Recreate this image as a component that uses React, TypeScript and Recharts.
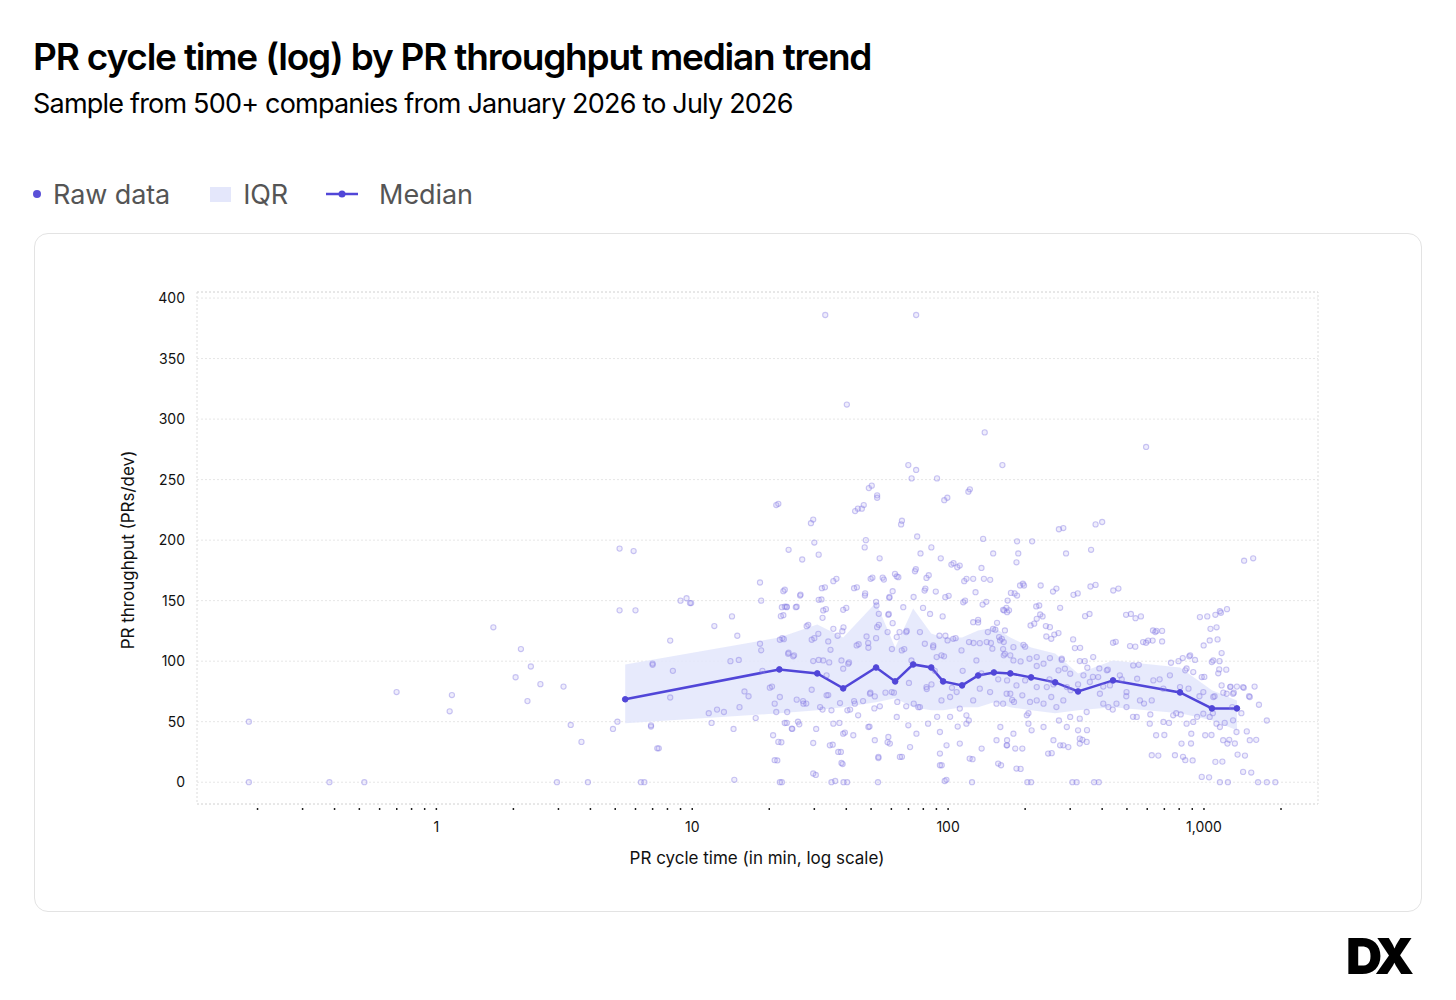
import React from 'react'
import {
  ComposedChart,
  Scatter,
  Area,
  Line,
  XAxis,
  YAxis,
  CartesianGrid,
  ReferenceArea,
} from 'recharts'

// raw points: [cycle time (min), throughput (PRs/dev)]
const rawPoints: [number, number][] = [
  [0.185, 50], [0.185, 0], [0.382, 0], [0.523, 0], [0.699, 74.5], [1.127, 58.6], [1.15, 72],
  [1.67, 128], [2.04, 86.7], [2.14, 110], [2.27, 67], [2.34, 95.6], [2.55, 81], [2.96, 0],
  [3.14, 79], [3.35, 47.3], [3.69, 33.3], [3.91, 0],
  [4.9, 44], [5.2, 193], [5.2, 142], [6.9, 46], [7.0, 98], [7.4, 28], [8.4, 92], [8.2, 70],
  [9.5, 152], [9.9, 148], [6.3, 0],
  [12.2, 129], [11.6, 57], [11.9, 49], [12.5, 60], [13.3, 58], [14.3, 137], [14.1, 100],
  [14.5, 44], [14.6, 2], [15, 121], [15.2, 101], [15.3, 62], [16, 75], [16.6, 71], [17.7, 53],
  [18.4, 165], [18.6, 109], [18.6, 150], [18.8, 92], [20.5, 79], [21.3, 58], [21.5, 18],
  [21.7, 230], [22.3, 33], [22.4, 0], [22.5, 119], [22.7, 138], [23, 159], [23, 145], [23.4, 145],
  [23.8, 192], [23.8, 107], [24.8, 104], [25.6, 145], [23.4, 49], [24.6, 44], [25.9, 50],
  [26.5, 155], [26.9, 184], [27.1, 67], [27.9, 65], [28.4, 130], [29.7, 217], [30, 198],
  [30, 119], [30.4, 6], [30.5, 44], [31.2, 188], [31.2, 101], [32, 151], [32.3, 60], [33, 161],
  [33.3, 143], [34, 72], [34.3, 99], [35.4, 31], [36.2, 1], [36.6, 168], [37, 121], [37.6, 49],
  [38.1, 25], [38.7, 15], [39, 128], [39.5, 41], [40, 144], [40.3, 0], [41, 99], [41.4, 60],
  [42.9, 67], [44, 161], [44.4, 226], [44.7, 114], [46.5, 67], [46.8, 229], [47.2, 194],
  [47.4, 156], [47.7, 200], [48.7, 115], [49.3, 46], [49.7, 74], [50.3, 245], [50.6, 169],
  [51.5, 61], [52.3, 119], [52.3, 149], [52.8, 237], [53.2, 0], [53.4, 20], [53.6, 130],
  [54, 185], [55.5, 169],
  [56.9, 74], [58, 33], [58.6, 139], [59, 153], [60.3, 110], [61.4, 74], [63, 170], [64.6, 124],
  [66, 216], [66, 21], [67.4, 110], [68.9, 125], [70.3, 82], [71, 29], [73.3, 153], [74.8, 176],
  [75.7, 203], [76.5, 62], [78, 189], [79.8, 144], [81.5, 160], [82.5, 77], [84, 171], [85, 139],
  [86, 194], [87.5, 113], [88.7, 92], [90.6, 54], [92.5, 121], [93.6, 185], [94.4, 14],
  [95.2, 137], [96.4, 104], [97.6, 121], [98.5, 2], [99.3, 235], [100.5, 154], [101.8, 54],
  [103.5, 78], [105, 181], [107, 119], [109, 46], [111, 179], [114, 92], [116.5, 150], [118, 168],
  [120.5, 51], [121.6, 242], [124, 0], [124.6, 19], [125.7, 115],
  [128, 157], [131, 132], [135, 90], [137, 201], [138, 168], [141, 149], [143, 124], [147, 115],
  [150, 189], [153, 126], [157, 85], [161, 14], [164, 110], [169, 144], [173, 142], [178, 68],
  [182, 156], [186, 199], [188, 189], [192, 11], [196, 164], [200, 112], [206, 57], [211, 0],
  [213, 199], [217, 131], [222, 96], [227, 146], [234, 137], [241, 129], [249, 85], [254, 24],
  [260, 122], [265, 160], [271, 51], [278, 101], [282, 210], [289, 189], [295, 29], [301, 76],
  [308, 118], [318, 0], [321, 156], [328, 111], [335, 35], [342, 100], [349, 43], [357, 139],
  [362, 192], [368, 87], [377, 163], [388, 0], [390, 94],
  [400, 215], [404, 79], [421, 93], [440, 60], [452, 116], [463, 160], [477, 85], [497, 71],
  [518, 139], [528, 54], [539, 112], [556, 97], [567, 137], [583, 65], [605, 117], [617, 56],
  [630, 117], [652, 125], [663, 22], [671, 85], [686, 125], [700, 39], [730, 49], [779, 57],
  [795, 100], [811, 56], [828, 21], [855, 94], [876, 104], [890, 32], [903, 18], [922, 101],
  [940, 54], [960, 71], [1003, 87], [1030, 137], [1047, 4], [1070, 39], [1083, 57], [1100, 71],
  [1120, 128], [1130, 118], [1137, 90], [1150, 100], [1165, 140], [1180, 17], [1190, 74],
  [1205, 49], [1222, 93], [1230, 143], [1240, 0], [1255, 35], [1270, 79], [1290, 62], [1308, 74],
  [1320, 32], [1345, 79], [1400, 57], [1430, 78], [1446, 22], [1470, 42], [1500, 71], [1530, 8],
  [1557, 185], [1577, 79], [1600, 35], [1640, 64], [1760, 51], [1760, 0], [1900, 0],
  // upper outliers
  [33.1, 386], [75, 386], [40.2, 312], [139, 289], [594, 277], [69.9, 262], [75, 258],
  [72, 251], [90.5, 251], [163, 262], [49, 243], [52.8, 235], [43.3, 224], [46, 226], [120, 240],
  [96.6, 233], [21.3, 229], [29.1, 214], [65.5, 213], [271, 209], [377, 213], [1435, 183],
]

// extra raw points around 5–10 min
const rawLeft: [number, number][] = [
  [5.1, 50], [5.9, 191], [6.0, 142], [6.5, 0], [7.0, 97], [6.9, 47], [7.3, 28], [8.2, 117],
  [9.0, 150], [9.8, 148],
]

// dense core, 18–170 min
const rawCoreA: [number, number][] = [
  [22.7, 157.8], [22.4, 144.6], [23.4, 144.6], [25.4, 144.6], [26.4, 154.2], [22.2, 137.2],
  [32.1, 160.3], [31.2, 150.7], [32.5, 141.9], [35.6, 166.1], [32.3, 135.8], [38.9, 142.4],
  [42.9, 160.3], [47.3, 154.2], [49.8, 168], [56.1, 167.4], [58.9, 152.3], [52.5, 146],
  [53.6, 139.1], [58.4, 138.3], [62, 172.1], [63.9, 169.4], [60.7, 157.8], [66.8, 144.6],
  [74.2, 174.3], [80.9, 158.3], [82.3, 168.8], [89.5, 157.5], [97.5, 152.9], [103, 179.8],
  [108.6, 177.6], [115.6, 166.1], [125.3, 168], [135, 177], [146, 167.2], [114.6, 148.7],
  [125.3, 132.2], [131, 134.2], [136.4, 146.8], [149.8, 126.7], [155.3, 131.7], [165.6, 141.9],
  [170.8, 150.1], [162.1, 118.5], [166.7, 106.1],
  [18.4, 114.4], [22, 117.7], [22.8, 118.2], [23.7, 106.1], [25, 104.8], [28, 128.9],
  [29.3, 117.7], [31.1, 122.6], [34, 116.3], [35.6, 126.7], [38.6, 124.8], [34.7, 109.4],
  [32.5, 100.6], [33.5, 88.3], [29.7, 100.1], [38.9, 93.8], [38.3, 100.6], [40.7, 97.9],
  [43.9, 113], [48, 120.4], [48.8, 111.1], [52.8, 128.1], [58, 124], [60.7, 131.4], [63, 119.9],
  [65.9, 108.9], [68.6, 124], [71.9, 100.6], [77.6, 124], [81.1, 114.4], [87.4, 111.6],
  [90.2, 103.4], [94.2, 104.8], [99.5, 117.1], [104.7, 118.5], [112.8, 108.9], [120.7, 115.8],
  [129, 100.6], [133, 114.9], [141.5, 115.8], [148.9, 110.3], [158.2, 119.9], [166.7, 125.4],
  [20.1, 78.1], [21, 64.9], [22, 70.4], [23.5, 58], [25.6, 68.2], [27.2, 64.9], [29.3, 76.4],
  [31.6, 62.1], [33.5, 71.8], [35, 59.4], [37.8, 65.4], [40.4, 59.4], [43.2, 64.9], [44.5, 55.3],
  [49.5, 73.1], [51.7, 70.9], [54.1, 62.7], [60.2, 74.5], [63.3, 66.3], [68.6, 62.7],
  [73.4, 64.9], [77.6, 62.1], [82.3, 78.6], [86.1, 80.8], [94.2, 67.6], [101.8, 70.4],
  [108, 74.5], [111.1, 60.8], [117.9, 55.3], [125.3, 67.6], [133, 77.3], [145.9, 74.5],
  [154.6, 64.9], [169.3, 73.1],
  [20.7, 38.8], [21.7, 33.3], [23, 48.9], [24.5, 44.3], [26.2, 47.8], [29.7, 32.4], [34.5, 30.5],
  [37.2, 25], [38.3, 15.9], [35.6, 48.4], [38.9, 40.1], [42.6, 38.8], [48.8, 45.6], [51.7, 34.7],
  [58.4, 37.4], [59.2, 31.9], [63, 53.9], [69.9, 47], [75.2, 40.1], [83.5, 48.4], [92.9, 41.5],
  [92.9, 23.7], [98.6, 30.5], [111.1, 31.9], [117.9, 48.4], [121.4, 19.5], [135.2, 27.8],
  [154.6, 34.7], [156.9, 15.4], [169.3, 30.5], [21, 18.2], [29.7, 7.2], [53.4, 20.9],
  [64.8, 20.9], [92.9, 14], [22, 0], [35, 0], [39, 0], [97, 1],
]

// dense core, 160–1600 min
const rawCoreB: [number, number][] = [
  [191, 162.5], [198, 162.5], [230, 162.5], [176, 156.4], [186, 154.2], [257, 157.5],
  [309, 154.8], [360, 161.7], [442, 158.4], [164, 142.4], [170, 140.5], [221, 145.2],
  [229, 138.6], [222, 135], [274, 144.1], [210, 129.5], [250, 128.1], [270, 123.2], [242, 120.4],
  [253, 118.5], [343, 137.2], [496, 138.3], [540, 135.5], [632, 125.4], [645, 124], [578, 115.8],
  [594, 115.2], [686, 116.3], [514, 112.5], [441, 115.2], [313, 110.8], [964, 136.4],
  [1108, 138.3], [1154, 141.3], [1060, 126.7], [1053, 117.1], [997, 113], [1172, 106.7],
  [1087, 100.6], [1147, 93.2], [185, 181.7],
  [159.6, 117.1], [165, 115.8], [180, 111.6], [197, 113.5], [165, 104.8], [175, 104.8],
  [180, 100.6], [192, 99.8], [208, 102], [222, 103.4], [236, 97.9], [250, 102.6], [278, 102],
  [270, 92.4], [286, 93.8], [300, 89.6], [327, 100.1], [369, 103.4], [350, 94.6], [338, 88.3],
  [386, 86.9], [417, 92.4], [469, 88.3], [529, 96.5], [548, 85.5], [634, 84.1], [736, 88.3],
  [743, 98.7], [826, 102.6], [883, 104.8], [845, 92.4], [908, 91], [980, 86.9], [1073, 99.3],
  [1172, 80], [1266, 78.6], [1299, 73.1], [1422, 78.6], [1510, 70.4], [170, 84.1], [185, 80],
  [200, 84.1], [222, 78.6], [243, 78.6], [258, 80.8], [291, 78.6], [322, 80.8], [358, 82.8],
  [392, 73.1], [429, 80], [498, 74.5], [562, 67.6], [625, 67.6], [694, 77.3], [806, 78.6],
  [870, 77.3], [994, 74.5], [1087, 70.4], [1227, 73.1],
  [175, 73.1], [164, 64.9], [181, 66.3], [195, 71.8], [209, 66.3], [222, 67.6], [236, 64.9],
  [253, 70.4], [265, 62.1], [282, 67.6], [300, 53.9], [327, 52.5], [348, 58], [404, 64.9],
  [423, 62.1], [455, 64.9], [498, 62.1], [546, 53.9], [614, 48.4], [694, 49.8], [758, 55.3],
  [855, 48.4], [908, 49.8], [994, 56.6], [1053, 53.9], [1119, 48.4], [1154, 45.6], [1299, 51.1],
  [1340, 41.5], [206, 48.4], [212, 42.9], [236, 45.6], [258, 34.7], [274, 30.5], [291, 45.6],
  [322, 42.9], [327, 36], [160, 45.6], [170, 34.7], [180, 40.1], [203, 55.3],
  [183, 27.8], [195, 27.8], [170, 30.5], [246, 23.7], [282, 30.5], [327, 31.9], [348, 33.3],
  [185, 11.3], [625, 22.3], [770, 22.3], [817, 31.9], [845, 18.2], [892, 40.1], [1011, 38.8],
  [1108, 16.8], [1188, 34.7], [1235, 31.9], [1353, 22.8], [1422, 8.5], [1510, 34.7], [980, 4.4],
  [650, 38.8], [204, 0], [306, 0], [372, 0], [1154, 0], [1627, 0],
]

const medianX = [5.47, 21.9, 30.8, 38.9, 52.3, 62.1, 73, 85.9, 95.6, 113.4, 131, 151, 175, 211, 262, 322, 441, 806, 1074, 1345]
const medianY = [68.5, 93.2, 89.9, 77.5, 94.8, 83.3, 97.3, 94.8, 83.3, 80, 88.2, 90.7, 89.9, 86.6, 82.5, 75, 84.1, 74.2, 61, 61]
const q1 = [48.7, 56.9, 59.4, 61.9, 66, 69.3, 61.9, 59.4, 59.4, 61.9, 61.9, 66, 61.9, 59.4, 56.9, 59.4, 61.9, 56.9, 51.1, 42.9]
const q3 = [97.3, 119.6, 130.3, 119.6, 148.5, 111.3, 143.5, 122.9, 119.6, 119.6, 125.4, 127.8, 119.6, 111.3, 106.4, 89.9, 100.6, 94.8, 75.9, 67.6]

const yTicks = [0, 50, 100, 150, 200, 250, 300, 350, 400]
const xTicks = [
  0.2, 0.3, 0.4, 0.5, 0.6, 0.7, 0.8, 0.9, 1, 2, 3, 4, 5, 6, 7, 8, 9, 10,
  20, 30, 40, 50, 60, 70, 80, 90, 100, 200, 300, 400, 500, 600, 700, 800, 900, 1000, 2000,
]
const xLabels: Record<number, string> = { 1: '1', 10: '10', 100: '100', 1000: '1,000' }

const X_DOMAIN: [number, number] = [0.116, 2790]
const Y_DOMAIN: [number, number] = [-18, 405]

const trend = medianX.map((x, i) => ({ x, median: medianY[i], iqr: [q1[i], q3[i]] }))
const scatterData = [...rawPoints, ...rawLeft, ...rawCoreA, ...rawCoreB].map(([x, y]) => ({ x, y }))

const font = 'Inter, "Noto Sans", sans-serif'

const RawDot = (props: any) => (
  <circle cx={props.cx} cy={props.cy} r={2.6} fill="#9a90ea" fillOpacity={0.16} stroke="#8479e2" strokeOpacity={0.42} strokeWidth={1.1} />
)

const XTick = (props: any) => {
  const { x, y, payload } = props
  const label = xLabels[payload.value]
  return (
    <g>
      <line x1={x} x2={x} y1={y + 2} y2={y + 4} stroke="#222" strokeWidth={1.5} />
      {label && (
        <text x={x} y={y + 26} textAnchor="middle" fontSize={14} fill="#111" fontFamily={font}>
          {label}
        </text>
      )}
    </g>
  )
}

export default function App() {
  return (
    <div style={{ position: 'absolute', left: 0, top: 0, width: 1456, height: 1000, background: '#fff', fontFamily: font }}>
      <div style={{ position: 'absolute', left: 33, top: 34, fontSize: 37, fontWeight: 600, letterSpacing: -1.2, color: '#000' }}>
        PR cycle time (log) by PR throughput median trend
      </div>
      <div style={{ position: 'absolute', left: 33, top: 87, fontSize: 27, letterSpacing: -0.8, color: '#000' }}>
        Sample from 500+ companies from January 2026 to July 2026
      </div>

      {/* legend */}
      <div style={{ position: 'absolute', left: 33, top: 176, height: 36, display: 'flex', alignItems: 'center', fontSize: 27, color: '#555', letterSpacing: -0.1 }}>
        <span style={{ width: 8, height: 8, borderRadius: 4, background: '#5a50d8', marginRight: 12 }} />
        <span>Raw data</span>
        <span style={{ width: 21, height: 15, background: '#e4e7fb', marginLeft: 40, marginRight: 12 }} />
        <span>IQR</span>
        <svg width={32} height={10} style={{ marginLeft: 38, marginRight: 21 }}>
          <line x1={0} x2={32} y1={5} y2={5} stroke="#5146d8" strokeWidth={2.5} />
          <circle cx={16} cy={5} r={3.5} fill="#5146d8" />
        </svg>
        <span>Median</span>
      </div>

      <div style={{ position: 'absolute', left: 34, top: 233, width: 1386, height: 677, border: '1px solid #e3e3e3', borderRadius: 14 }} />

      <div style={{ position: 'absolute', left: 100, top: 270 }}>
        <ComposedChart width={1240} height={640} data={trend} margin={{ top: 22, right: 22, left: 47, bottom: 46 }}>
          <CartesianGrid horizontal vertical={false} stroke="#e6e6e6" strokeDasharray="2 2" />
          <ReferenceArea x1={X_DOMAIN[0]} x2={X_DOMAIN[1]} y1={Y_DOMAIN[0]} y2={Y_DOMAIN[1]} fill="none" stroke="#dcdcdc" strokeDasharray="2 2" />
          <XAxis
            type="number"
            dataKey="x"
            scale="log"
            domain={X_DOMAIN}
            allowDataOverflow
            ticks={xTicks}
            interval={0}
            tick={<XTick />}
            tickLine={false}
            tickSize={0}
            axisLine={false}
            height={60}
          />
          <YAxis
            type="number"
            domain={Y_DOMAIN}
            allowDataOverflow
            ticks={yTicks}
            interval={0}
            tick={{ fontSize: 14, fill: '#111', fontFamily: font }}
            tickLine={false}
            tickSize={0}
            tickMargin={12}
            axisLine={false}
            width={50}
          />
          <Area dataKey="iqr" type="linear" stroke="none" fill="#e3e6fb" fillOpacity={0.85} isAnimationActive={false} />
          <Scatter data={scatterData} dataKey="y" shape={<RawDot />} isAnimationActive={false} />
          <Line
            dataKey="median"
            type="linear"
            stroke="#5146d8"
            strokeWidth={2.5}
            dot={{ r: 2.8, fill: '#5146d8', stroke: '#5146d8', strokeWidth: 1 }}
            isAnimationActive={false}
          />
        </ComposedChart>
      </div>

      <div style={{ position: 'absolute', left: 0, width: 1514, top: 848, textAlign: 'center', fontSize: 17, color: '#111' }}>
        PR cycle time (in min, log scale)
      </div>
      <div style={{ position: 'absolute', left: 128, top: 550, width: 0, height: 0 }}>
        <div style={{ position: 'absolute', transform: 'translate(-50%, -50%) rotate(-90deg)', whiteSpace: 'nowrap', fontSize: 17, color: '#111' }}>
          PR throughput (PRs/dev)
        </div>
      </div>

      <div style={{ position: 'absolute', left: 1346, top: 926, fontSize: 50, fontWeight: 900, letterSpacing: -4, color: '#000', fontFamily: 'Inter, sans-serif' }}>
        DX
      </div>
    </div>
  )
}
